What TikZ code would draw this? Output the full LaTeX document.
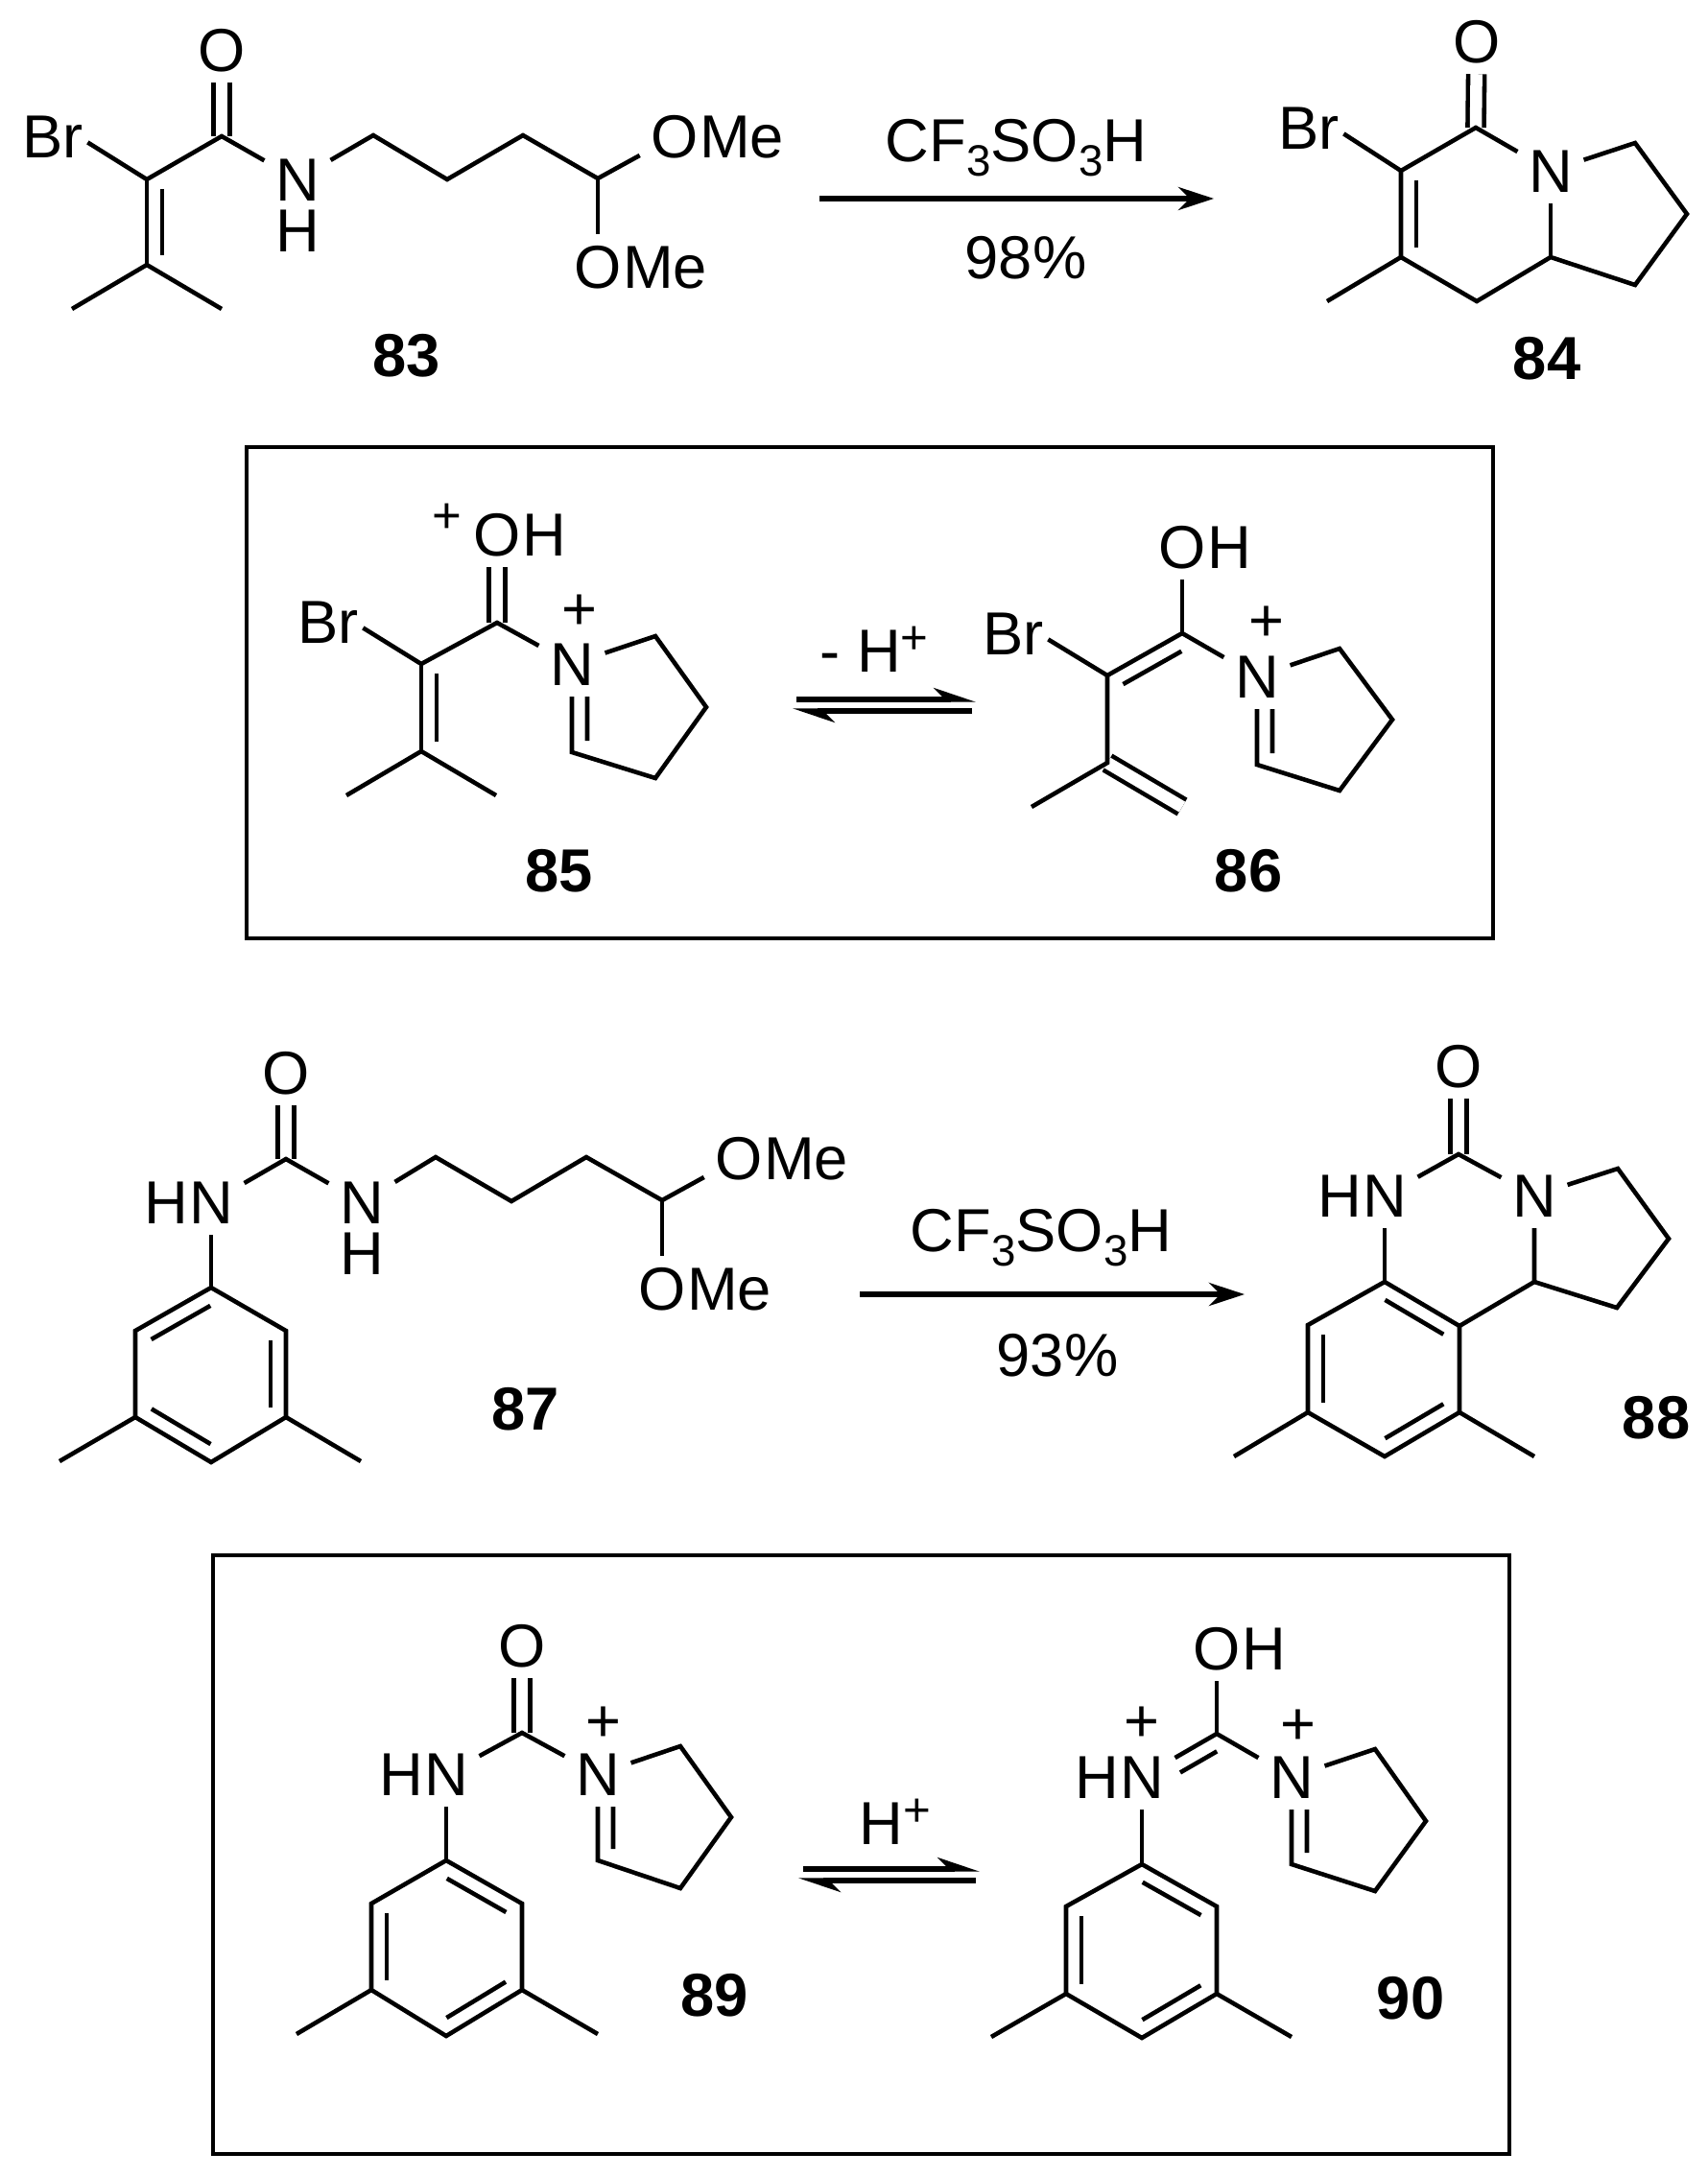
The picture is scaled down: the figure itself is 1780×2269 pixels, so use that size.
\documentclass[tikz,border=0pt]{standalone}
\usepackage{fontspec}
\setmainfont{Liberation Sans}
\usetikzlibrary{positioning,calc,arrows.meta}
\tikzset{
  atom/.style={inner sep=.11cm,text height=.45cm,text depth=0pt,font=\fontsize{18}{20}\selectfont},
  brom/.style={atom,inner xsep=.04cm},
  chg/.style={inner sep=0pt,font=\fontsize{18}{20}\selectfont},
  num/.style={atom,font=\fontsize{18}{20}\selectfont\bfseries},
  bond/.style={line width=1.3pt},
  dbond/.style={line width=1.3pt,double,double distance=.125cm},
  rarrow/.style={line width=1.5pt,-{Stealth[length=.37cm,width=.24cm]}},
  harrow/.style={line width=1.5pt,-{Stealth[harpoon,length=.36cm,width=.24cm]}}
}
\newcommand{\inbond}[2]{\path[draw,bond] ($(#1)!.11!(#2)!.16cm!90:(#2)$) -- ($(#2)!.11!(#1)!.16cm!-90:(#1)$);}
\newcommand{\lowthree}{\raisebox{-.24em}{\fontsize{13}{14}\selectfont 3}}
\newcommand{\upplus}{\raisebox{.3em}{\fontsize{14}{15}\selectfont +}}
\begin{document}
\begin{tikzpicture}[x=0.01cm,y=-0.01cm]
\useasboundingbox (0,0) rectangle (1780,2269);

\node[brom] (br83) at (55,142) {Br};
\node[atom] (o83) at (231,52) {O};
\node[atom] (n83) at (310,187) {N};
\node[atom,below=-.15cm of n83] (h83) {H};
\node[atom] (o83a) at (703,142) {O};
\node[atom,right=-.22cm of o83a] (me83a) {Me};
\node[atom] (o83b) at (623,278) {O};
\node[atom,right=-.22cm of o83b] (me83b) {Me};
\node[num] (m83) at (424,370) {83};
\coordinate (c83a) at (153,187);
\coordinate (c83b) at (231,142);
\coordinate (c83c) at (153,276);
\coordinate (c83d) at (75,322);
\coordinate (c83e) at (231,322);
\coordinate (c83f) at (389,141);
\coordinate (c83g) at (466,187);
\coordinate (c83h) at (545,141);
\coordinate (c83i) at (623,186);
\path[draw,dbond] (o83) -- (c83b);
\path[draw,bond] (br83.-10) -- (c83a) -- (c83b) -- (n83);
\path[draw,bond] (c83a) -- (c83c);
\path[draw,bond] (c83d) -- (c83c) -- (c83e);
\path[draw,bond] (n83) -- (c83f) -- (c83g) -- (c83h) -- (c83i) -- (o83a);
\path[draw,bond] (c83i) -- (o83b);
\inbond{c83a}{c83c}

\node[atom] (r83) at (1059,146) {CF\lowthree SO\lowthree H};
\node[atom] (y83) at (1069,268) {98\%};
\coordinate (a83s) at (854,207);
\coordinate (a83e) at (1265,207);
\path[draw,rarrow] (a83s) -- (a83e);

\node[brom] (br84) at (1364,133) {Br};
\node[atom] (o84) at (1539,43) {O};
\node[atom] (n84) at (1616,178) {N};
\node[num] (m84) at (1612,373) {84};
\coordinate (c84a) at (1460,178);
\coordinate (c84b) at (1538,133);
\coordinate (c84c) at (1460,268);
\coordinate (c84d) at (1383,314);
\coordinate (c84e) at (1539,314);
\coordinate (c84f) at (1616,268);
\coordinate (c84g) at (1704,297);
\coordinate (c84h) at (1758,223);
\coordinate (c84i) at (1704,149);
\path[draw,dbond] (o84) -- (c84b);
\path[draw,bond] (br84.-10) -- (c84a) -- (c84b) -- (n84);
\path[draw,bond] (c84a) -- (c84c) -- (c84e) -- (c84f) -- (c84g) -- (c84h) -- (c84i) -- (n84);
\path[draw,bond] (c84c) -- (c84d);
\path[draw,bond] (c84f) -- (n84);
\inbond{c84a}{c84c}

\path[draw,bond] (257,466) rectangle (1556,978);

\node[chg,font=\fontsize{15}{17}\selectfont] (p85a) at (466,540) {+};
\node[atom] (o85) at (518,557) {O};
\node[atom,right=-.22cm of o85] (h85) {H};
\node[brom] (br85) at (342,648) {Br};
\node[atom] (n85) at (596,692) {N};
\node[chg] (p85b) at (604,638) {+};
\node[num] (m85) at (583,907) {85};
\coordinate (c85a) at (439,692);
\coordinate (c85b) at (518,649);
\coordinate (c85c) at (439,783);
\coordinate (c85d) at (361,829);
\coordinate (c85e) at (517,829);
\coordinate (c85f) at (683,663);
\coordinate (c85g) at (736,737);
\coordinate (c85h) at (683,811);
\coordinate (c85i) at (596,784);
\path[draw,dbond] (o85) -- (c85b);
\path[draw,bond] (br85.-10) -- (c85a) -- (c85b) -- (n85);
\path[draw,bond] (c85a) -- (c85c);
\path[draw,bond] (c85d) -- (c85c) -- (c85e);
\path[draw,bond] (n85) -- (c85f) -- (c85g) -- (c85h) -- (c85i) -- (n85);
\path[draw,bond] ([xshift=.16cm]n85.south) -- ($(c85i)+(16,-12)$);
\inbond{c85a}{c85c}

\node[atom] (r85) at (911,678) {- H\upplus};
\coordinate (a85s) at (830,729);
\coordinate (a85e) at (1017,729);
\coordinate (a85t) at (1013,741);
\coordinate (a85u) at (826,741);
\path[draw,harrow] (a85s) -- (a85e);
\path[draw,harrow] (a85t) -- (a85u);

\node[atom] (o86) at (1232,570) {O};
\node[atom,right=-.22cm of o86] (h86) {H};
\node[brom] (br86) at (1056,660) {Br};
\node[atom] (n86) at (1310,705) {N};
\node[chg] (p86) at (1320,650) {+};
\node[num] (m86) at (1301,907) {86};
\coordinate (c86a) at (1154,704);
\coordinate (c86b) at (1232,660);
\coordinate (c86c) at (1154,795);
\coordinate (c86d) at (1075,841);
\coordinate (c86e) at (1232,841);
\coordinate (c86f) at (1396,676);
\coordinate (c86g) at (1451,750);
\coordinate (c86h) at (1396,824);
\coordinate (c86i) at (1310,797);
\path[draw,dbond] (c86c) -- (c86e);
\path[draw,bond] (br86.-10) -- (c86a) -- (c86b) -- (n86);
\path[draw,bond] (o86) -- (c86b);
\path[draw,bond] (c86a) -- (c86c) -- (c86d);
\path[draw,bond] (n86) -- (c86f) -- (c86g) -- (c86h) -- (c86i) -- (n86);
\path[draw,bond] ([xshift=.16cm]n86.south) -- ($(c86i)+(16,-12)$);
\inbond{c86b}{c86a}

\node[atom] (o87) at (298,1118) {O};
\node[atom] (n87a) at (220,1253) {N};
\node[atom,left=-.22cm of n87a] (h87a) {H};
\node[atom] (n87b) at (377,1253) {N};
\node[atom,below=-.15cm of n87b] (h87b) {H};
\node[atom] (o87a) at (770,1207) {O};
\node[atom,right=-.22cm of o87a] (me87a) {Me};
\node[atom] (o87b) at (690,1343) {O};
\node[atom,right=-.22cm of o87b] (me87b) {Me};
\node[num] (m87) at (548,1468) {87};
\coordinate (c87a) at (298,1208);
\coordinate (c87b) at (454,1206);
\coordinate (c87c) at (533,1252);
\coordinate (c87d) at (611,1206);
\coordinate (c87e) at (690,1251);
\coordinate (r87a) at (220,1342);
\coordinate (r87b) at (141,1387);
\coordinate (r87c) at (141,1477);
\coordinate (r87d) at (220,1524);
\coordinate (r87e) at (298,1477);
\coordinate (r87f) at (298,1387);
\coordinate (c87f) at (62,1523);
\coordinate (c87g) at (376,1523);
\path[draw,dbond] (o87) -- (c87a);
\path[draw,bond] (n87a) -- (c87a) -- (n87b) -- (c87b) -- (c87c) -- (c87d) -- (c87e) -- (o87a);
\path[draw,bond] (c87e) -- (o87b);
\path[draw,bond] (n87a) -- (r87a);
\path[draw,bond] (r87a) -- (r87b) -- (r87c) -- (r87d) -- (r87e) -- (r87f) -- cycle;
\path[draw,bond] (r87c) -- (c87f);
\path[draw,bond] (r87e) -- (c87g);
\inbond{r87a}{r87b}
\inbond{r87c}{r87d}
\inbond{r87e}{r87f}

\node[atom] (r87) at (1085,1282) {CF\lowthree SO\lowthree H};
\node[atom] (y87) at (1102,1412) {93\%};
\coordinate (a87s) at (896,1349);
\coordinate (a87e) at (1297,1349);
\path[draw,rarrow] (a87s) -- (a87e);

\node[atom] (o88) at (1520,1111) {O};
\node[atom] (n88a) at (1443,1246) {N};
\node[atom,left=-.22cm of n88a] (h88) {H};
\node[atom] (n88b) at (1599,1246) {N};
\node[num] (m88) at (1726,1477) {88};
\coordinate (c88a) at (1520,1203);
\coordinate (c88b) at (1686,1218);
\coordinate (c88c) at (1739,1291);
\coordinate (c88d) at (1685,1363);
\coordinate (c88e) at (1599,1336);
\coordinate (r88a) at (1443,1336);
\coordinate (r88b) at (1363,1381);
\coordinate (r88c) at (1363,1472);
\coordinate (r88d) at (1443,1518);
\coordinate (r88e) at (1521,1472);
\coordinate (r88f) at (1521,1382);
\coordinate (c88f) at (1286,1518);
\coordinate (c88g) at (1599,1518);
\path[draw,dbond] (o88) -- (c88a);
\path[draw,bond] (n88a) -- (c88a) -- (n88b) -- (c88b) -- (c88c) -- (c88d) -- (c88e) -- (n88b);
\path[draw,bond] (c88e) -- (r88f);
\path[draw,bond] (n88a) -- (r88a);
\path[draw,bond] (r88a) -- (r88b) -- (r88c) -- (r88d) -- (r88e) -- (r88f) -- cycle;
\path[draw,bond] (r88c) -- (c88f);
\path[draw,bond] (r88e) -- (c88g);
\inbond{r88f}{r88a}
\inbond{r88b}{r88c}
\inbond{r88d}{r88e}

\path[draw,bond] (222,1621) rectangle (1573,2245);

\node[atom] (o89) at (544,1715) {O};
\node[atom] (n89a) at (465,1849) {N};
\node[atom,left=-.22cm of n89a] (h89) {H};
\node[atom] (n89b) at (623,1849) {N};
\node[chg] (p89) at (629,1797) {+};
\node[num] (m89) at (745,2079) {89};
\coordinate (c89a) at (544,1806);
\coordinate (c89b) at (709,1820);
\coordinate (c89c) at (762,1894);
\coordinate (c89d) at (709,1968);
\coordinate (c89e) at (623,1939);
\coordinate (r89a) at (465,1939);
\coordinate (r89b) at (387,1984);
\coordinate (r89c) at (387,2074);
\coordinate (r89d) at (465,2122);
\coordinate (r89e) at (544,2074);
\coordinate (r89f) at (544,1984);
\coordinate (c89f) at (309,2120);
\coordinate (c89g) at (623,2120);
\path[draw,dbond] (o89) -- (c89a);
\path[draw,bond] (n89a) -- (c89a) -- (n89b) -- (c89b) -- (c89c) -- (c89d) -- (c89e) -- (n89b);
\path[draw,bond] ([xshift=.16cm]n89b.south) -- ($(c89e)+(16,-12)$);
\path[draw,bond] (n89a) -- (r89a);
\path[draw,bond] (r89a) -- (r89b) -- (r89c) -- (r89d) -- (r89e) -- (r89f) -- cycle;
\path[draw,bond] (r89c) -- (c89f);
\path[draw,bond] (r89e) -- (c89g);
\inbond{r89f}{r89a}
\inbond{r89b}{r89c}
\inbond{r89d}{r89e}

\node[atom] (r89) at (933,1900) {H\upplus};
\coordinate (a89s) at (837,1948);
\coordinate (a89e) at (1021,1948);
\coordinate (a89t) at (1017,1960);
\coordinate (a89u) at (832,1960);
\path[draw,harrow] (a89s) -- (a89e);
\path[draw,harrow] (a89t) -- (a89u);

\node[atom] (o90) at (1268,1718) {O};
\node[atom,right=-.22cm of o90] (h90b) {H};
\node[atom] (n90a) at (1190,1852) {N};
\node[atom,left=-.22cm of n90a] (h90a) {H};
\node[chg] (p90a) at (1190,1797) {+};
\node[atom] (n90b) at (1346,1852) {N};
\node[chg] (p90b) at (1353,1800) {+};
\node[num] (m90) at (1470,2082) {90};
\coordinate (c90a) at (1268,1807);
\coordinate (c90b) at (1433,1823);
\coordinate (c90c) at (1486,1898);
\coordinate (c90d) at (1433,1971);
\coordinate (c90e) at (1346,1943);
\coordinate (r90a) at (1190,1943);
\coordinate (r90b) at (1111,1987);
\coordinate (r90c) at (1111,2078);
\coordinate (r90d) at (1190,2124);
\coordinate (r90e) at (1268,2078);
\coordinate (r90f) at (1268,1987);
\coordinate (c90f) at (1033,2123);
\coordinate (c90g) at (1346,2123);
\path[draw,bond] (o90) -- (c90a);
\path[draw,bond] (n90a) -- (c90a) -- (n90b) -- (c90b) -- (c90c) -- (c90d) -- (c90e) -- (n90b);
\path[draw,bond] ($(c90a)!.1!(n90a)!.16cm!90:(n90a)$) -- ($(c90a)!.59!(n90a)!.16cm!90:(n90a)$);
\path[draw,bond] ([xshift=.16cm]n90b.south) -- ($(c90e)+(16,-12)$);
\path[draw,bond] (n90a) -- (r90a);
\path[draw,bond] (r90a) -- (r90b) -- (r90c) -- (r90d) -- (r90e) -- (r90f) -- cycle;
\path[draw,bond] (r90c) -- (c90f);
\path[draw,bond] (r90e) -- (c90g);
\inbond{r90f}{r90a}
\inbond{r90b}{r90c}
\inbond{r90d}{r90e}
\end{tikzpicture}
\end{document}
